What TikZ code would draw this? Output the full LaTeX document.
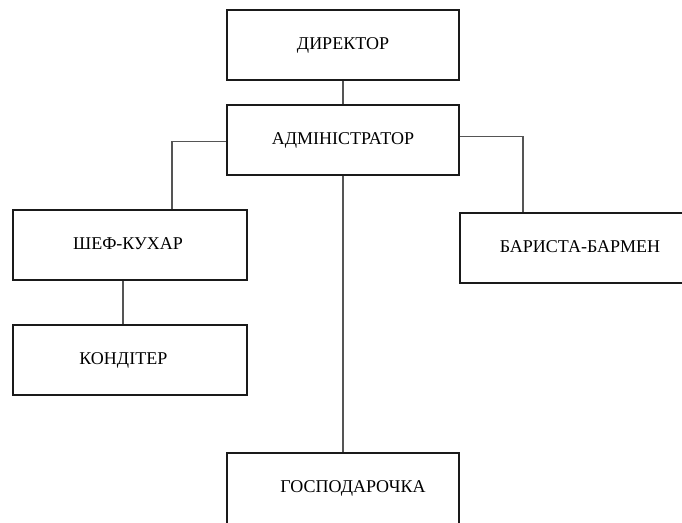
\documentclass[tikz,border=0pt]{standalone}
\usepackage{fontspec}
\setmainfont{Liberation Serif}
\usepackage{tikz}
\usetikzlibrary{positioning,calc}
\definecolor{boxline}{HTML}{1A1A1A}
\definecolor{wire}{HTML}{555555}

\begin{document}
\begin{tikzpicture}[x=0.75pt, y=-0.75pt,
    unit/.style={draw=boxline, line width=1.3pt, anchor=north, inner sep=0pt,
      minimum width=174pt, text height=29.5pt, text depth=23pt,
      font=\fontsize{13.5}{16}\selectfont},
    link/.style={draw=wire, line width=0.8pt}]
  \useasboundingbox (0,0) rectangle (682,522);
  \clip (0,0) rectangle (682,522);
  \node[unit] (dir) at (343,9) {ДИРЕКТОР};
  \node[unit] (adm) at (343,104) {АДМІНІСТРАТОР};
  \node[unit, minimum width=175.5pt] (chef) at (130,209) {ШЕФ-КУХАР\hspace*{3pt}};
  \node[unit, minimum width=175.5pt] (konf) at (130,324) {КОНДІТЕР\hspace*{10pt}};
  \node[unit, minimum width=180pt] (bar) at (580,212) {БАРИСТА-БАРМЕН};
  \node[unit, text depth=70pt] (gosp) at (343,452) {\hspace*{15pt}ГОСПОДАРОЧКА};
  \draw[link] (dir.south) -- (adm.north);
  \draw[link] ($(adm.west)+(0,2)$) -| ($(chef.north)+(42,0)$);
  \draw[link] ($(adm.east)+(0,-3)$) -| ($(bar.north)+(-57,0)$);
  \draw[link] (adm.south) -- (gosp.north);
  \draw[link] ($(chef.south)+(-7,0)$) -- ($(konf.north)+(-7,0)$);
\end{tikzpicture}
\end{document}
